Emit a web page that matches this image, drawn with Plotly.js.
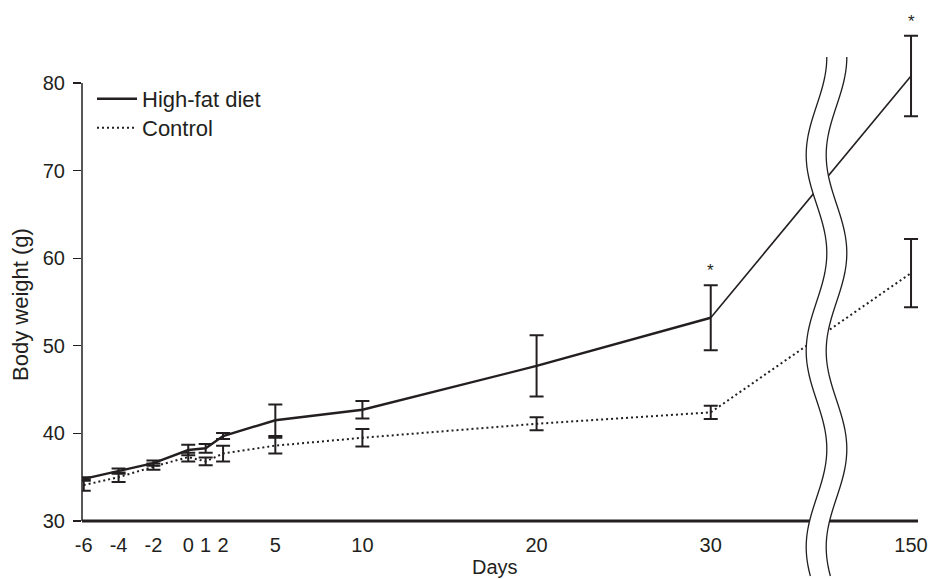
<!DOCTYPE html>
<html>
<head>
<meta charset="utf-8">
<script src="https://cdn.plot.ly/plotly-3.0.1.min.js"></script>
<style>html,body{margin:0;padding:0;background:#fff;}#chart{width:936px;height:579px;}</style>
</head>
<body>
<div id="chart"></div>
<script>
// ---- data ----
const days = [-6, -4, -2, 0, 1, 2, 5, 10, 20, 30, 150];
const dayLabels = ["-6", "-4", "-2", "0", "1", "2", "5", "10", "20", "30", "150"];
const highFat = [34.8, 35.7, 36.6, 38.1, 38.3, 39.7, 41.5, 42.7, 47.7, 53.2, 80.8];
const highFatErr = [0.2, 0.3, 0.3, 0.6, 0.5, 0.35, 1.8, 1.0, 3.5, 3.7, 4.6];
const control = [34.1, 35.0, 36.2, 37.3, 36.8, 37.7, 38.6, 39.5, 41.1, 42.4, 58.3];
const controlErr = [0.65, 0.55, 0.35, 0.5, 0.45, 0.9, 0.9, 1.0, 0.75, 0.75, 3.9];
const yTicks = [30, 40, 50, 60, 70, 80];
const significantDays = [30, 150];

// ---- axis break: days after 30 are drawn past a broken axis ----
const LAST_LINEAR_DAY = 30;
const BREAK_POSITION = 41.5;
const pos = d => (d > LAST_LINEAR_DAY ? BREAK_POSITION : d);
const xs = days.map(pos);
const nLin = days.filter(d => d <= LAST_LINEAR_DAY).length;

const INK = '#231f20';
const FONT = 'Liberation Sans, Arial, sans-serif';

const traces = [
  {x: xs.slice(0, nLin), y: highFat.slice(0, nLin), mode: 'lines', name: 'High-fat diet', legend: 'legend',
   line: {color: INK, width: 2.4}, hoverinfo: 'skip'},
  {x: xs.slice(nLin - 1), y: highFat.slice(nLin - 1), mode: 'lines', showlegend: false,
   line: {color: INK, width: 1.6}, hoverinfo: 'skip'},
  {x: xs, y: control, mode: 'lines', name: 'Control', legend: 'legend2',
   line: {color: INK, width: 2, dash: '2px,3px'}, hoverinfo: 'skip'},
  {x: xs, y: highFat, mode: 'markers', showlegend: false, marker: {size: 1, opacity: 0},
   error_y: {type: 'data', array: highFatErr, visible: true, color: INK, thickness: 2, width: 7}, hoverinfo: 'skip'},
  {x: xs, y: control, mode: 'markers', showlegend: false, marker: {size: 1, opacity: 0},
   error_y: {type: 'data', array: controlErr, visible: true, color: INK, thickness: 2, width: 7}, hoverinfo: 'skip'}
];

// plot area in pixels
const L = 82, R = 918, T = 10, B = 521;
const W = 936, H = 579;
const px2x = p => (p - L) / (R - L);
const py2y = p => (B - p) / (B - T);

// wavy break lines
function wave(offset) {
  const pts = [];
  for (let y = 57; y <= 576; y += 3) {
    const x = 816.5 + offset + 10.3 * Math.cos(2 * Math.PI * (y - 57) / 196);
    pts.push([px2x(x), py2y(y)]);
  }
  return pts;
}
const wl = wave(0), wr = wave(20);
const toPath = pts => pts.map((p, i) => (i ? 'L' : 'M') + p[0].toFixed(5) + ',' + p[1].toFixed(5)).join(' ');
const fillPath = toPath(wl.concat(wr.slice().reverse())) + ' Z';

const shapes = [
  {type: 'line', xref: 'paper', yref: 'y', x0: 0, x1: 0, y0: 30, y1: 80, line: {color: INK, width: 1.5}, layer: 'above'},
  {type: 'line', xref: 'paper', yref: 'paper', x0: 0, x1: 1, y0: 0, y1: 0, line: {color: INK, width: 3}, layer: 'above'},
  {type: 'path', xref: 'paper', yref: 'paper', path: fillPath, fillcolor: '#ffffff', line: {width: 0}, layer: 'above'},
  {type: 'path', xref: 'paper', yref: 'paper', path: toPath(wl), line: {color: INK, width: 1.3}, layer: 'above'},
  {type: 'path', xref: 'paper', yref: 'paper', path: toPath(wr), line: {color: INK, width: 1.3}, layer: 'above'}
];

const annotations = significantDays.map(d => {
  const i = days.indexOf(d);
  return {x: pos(d), y: highFat[i] + highFatErr[i], xref: 'x', yref: 'y', text: '*', showarrow: false,
    yanchor: 'bottom', yshift: 3, font: {family: FONT, size: 17, color: INK}};
});
annotations.push({xref: 'paper', yref: 'paper', x: px2x(495), y: py2y(567), text: 'Days', showarrow: false,
  xanchor: 'center', yanchor: 'middle', font: {family: FONT, size: 20, color: INK}});
annotations.push({xref: 'paper', yref: 'paper', x: px2x(20), y: py2y(305), text: 'Body weight (g)', showarrow: false,
  textangle: -90, xanchor: 'center', yanchor: 'middle', font: {family: FONT, size: 22, color: INK}});

const legendBase = {xanchor: 'left', yanchor: 'middle', bgcolor: 'rgba(0,0,0,0)',
  font: {family: FONT, size: 22, color: INK}, itemwidth: 40};

const layout = {
  width: W, height: H,
  margin: {l: L, r: W - R, t: T, b: H - B},
  paper_bgcolor: '#fff', plot_bgcolor: '#fff',
  font: {family: FONT, size: 20, color: INK},
  showlegend: true,
  legend: Object.assign({x: px2x(92), y: py2y(99)}, legendBase),
  legend2: Object.assign({x: px2x(92), y: py2y(128)}, legendBase),
  xaxis: {range: [-6.1, 41.9], tickmode: 'array', tickvals: xs, ticktext: dayLabels,
    showgrid: false, zeroline: false, showline: false, ticks: '', ticklabelstandoff: 10,
    tickfont: {family: FONT, size: 20, color: INK}, fixedrange: true},
  yaxis: {range: [30, 88.33], tickmode: 'array', tickvals: yTicks, showgrid: false, zeroline: false,
    showline: false, ticks: 'outside', ticklen: 8, tickwidth: 1.3, tickcolor: INK, ticklabelstandoff: 4,
    tickfont: {family: FONT, size: 20, color: INK}, fixedrange: true},
  shapes: shapes,
  annotations: annotations
};

Plotly.newPlot('chart', traces, layout, {staticPlot: true, displayModeBar: false});
</script>
</body>
</html>
